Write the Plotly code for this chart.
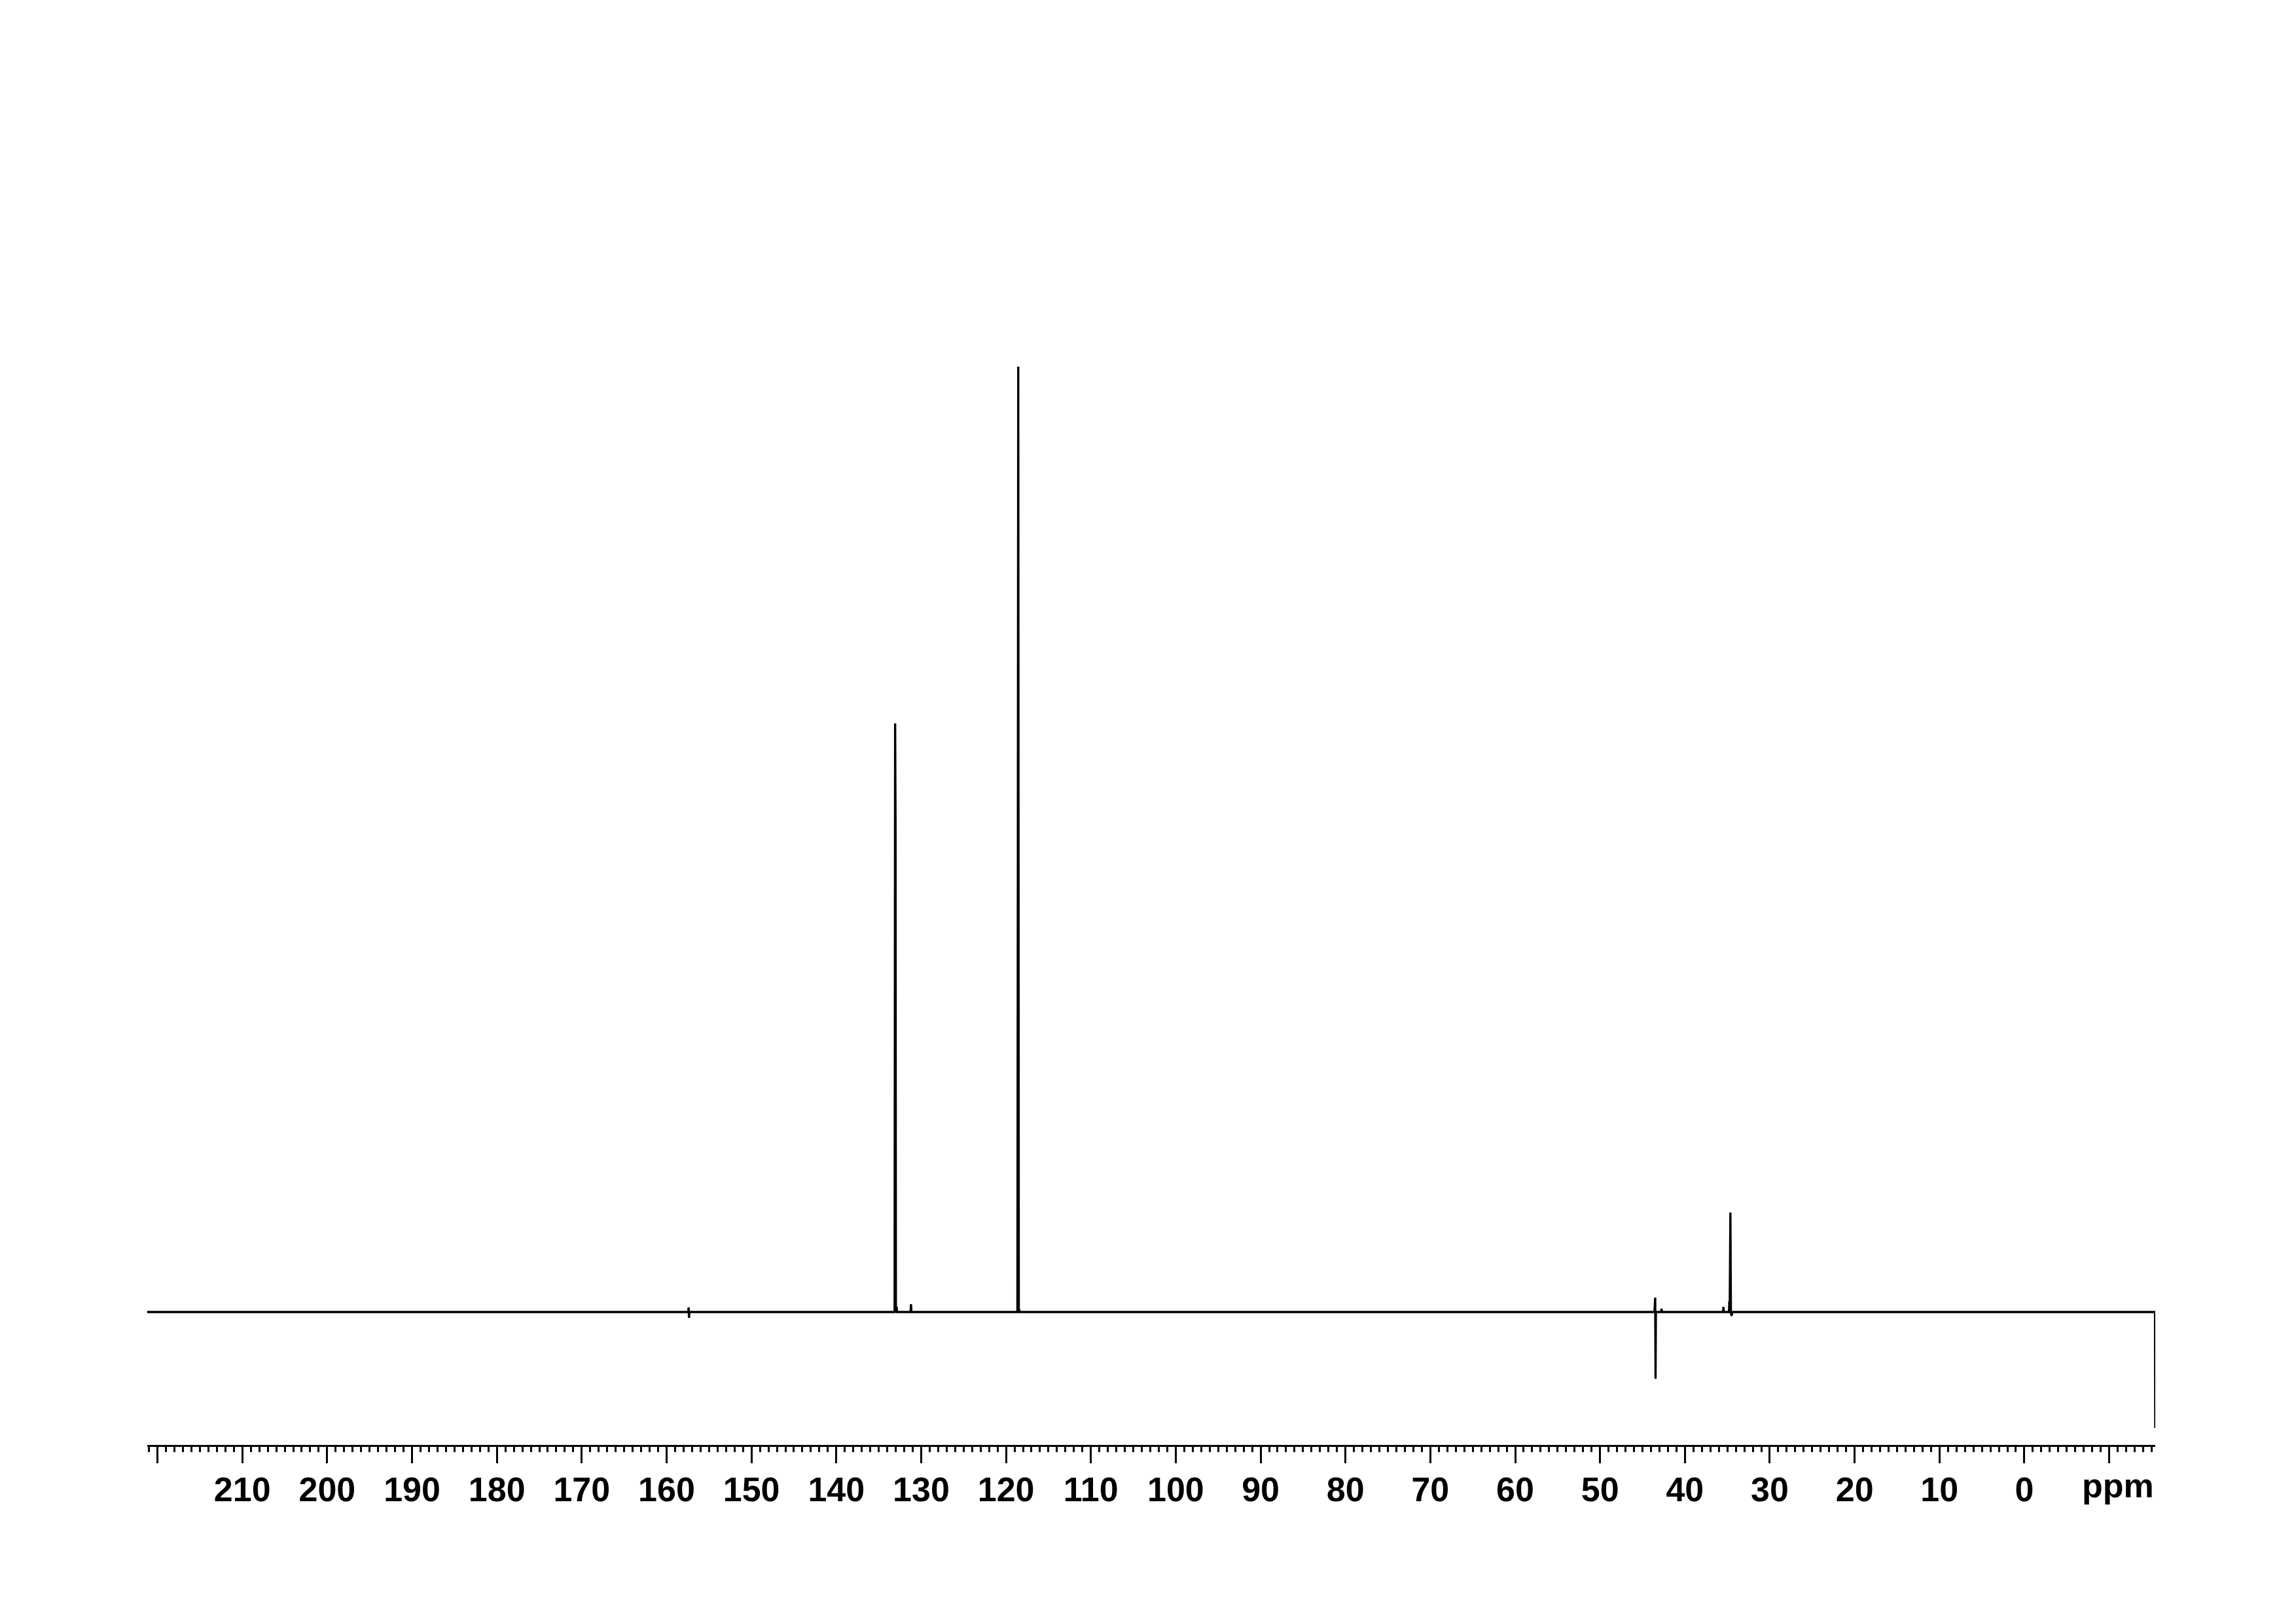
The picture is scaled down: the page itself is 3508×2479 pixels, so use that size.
import plotly.graph_objects as go

# 13C DEPT-type spectrum: chemical shift (ppm) and intensity (arbitrary units, baseline = 0)
shift_ppm = [221.20, 157.45, 157.40, 157.36, 157.32,
             133.20, 133.13, 133.07, 133.02, 132.98, 132.90, 132.84, 131.25, 131.20, 131.15,
             118.70, 118.66, 118.61, 118.56, 118.50, 118.45, 118.40,
             43.58, 43.50, 43.46, 43.42, 42.80, 42.75, 42.70,
             35.50, 35.46, 35.42, 34.80, 34.77, 34.72, 34.64, 34.58, 34.50, 34.42,
             -15.40, -15.43]
intensity = [0, 0, 7, -9, 0,
             0, 0, 899, 738, 0, 8, 0, 0, 12, 0,
             0, 0, 639, 1444, 0, 4, 0,
             0, 22, -102, 0, 0, 5, 0,
             0, 8, 0, 0, 16, 0, 152, 0, -6, 0,
             0, -177]

major_ticks = [220, 210, 200, 190, 180, 170, 160, 150, 140, 130, 120, 110,
               100, 90, 80, 70, 60, 50, 40, 30, 20, 10, 0, -10]
major_labels = ["", "210", "200", "190", "180", "170", "160", "150", "140", "130", "120", "110",
                "100", "90", "80", "70", "60", "50", "40", "30", "20", "10", "0", ""]
axis_unit = "ppm"
x_range = [221.2, -15.43]
y_range = [-203, 1804]

fig = go.Figure()
fig.add_trace(go.Scatter(x=shift_ppm, y=intensity, mode="lines",
                         line=dict(color="black", width=3.4), hoverinfo="skip",
                         showlegend=False))

font_family = "Liberation Sans, Arial, Helvetica, sans-serif"
fig.update_layout(
    width=3500, height=2471,
    margin=dict(l=217, r=215, t=192, b=272, pad=0),
    paper_bgcolor="white", plot_bgcolor="white",
    xaxis=dict(range=x_range, showgrid=False, zeroline=False,
               showline=True, linecolor="black", linewidth=2.5,
               ticks="outside", ticklen=25, tickwidth=2.5, tickcolor="black",
               tickmode="array", tickvals=major_ticks, ticktext=major_labels,
               ticklabelstandoff=-4,
               tickfont=dict(family=font_family, size=52, color="black", weight="bold"),
               minor=dict(tickmode="linear", tick0=0, dtick=1, ticks="outside",
                          ticklen=8, tickwidth=2.5, tickcolor="black", showgrid=False)),
    yaxis=dict(range=y_range, visible=False, showgrid=False, zeroline=False),
    annotations=[dict(text="<b>" + axis_unit + "</b>", x=1, xref="paper", xanchor="right",
                      y=0, yref="paper", yanchor="top", yshift=-31, showarrow=False,
                      font=dict(family=font_family, size=52, color="black"))],
)

fig.write_html("out.html")
